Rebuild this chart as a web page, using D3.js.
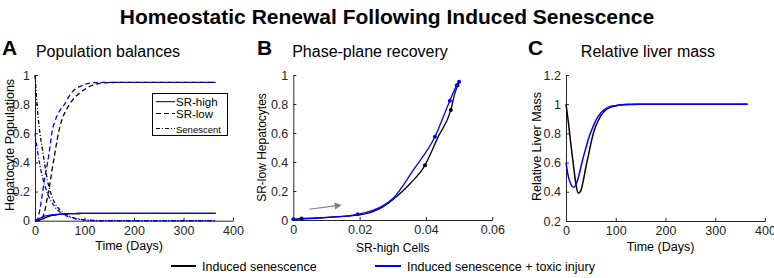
<!DOCTYPE html>
<html><head><meta charset="utf-8">
<script src="https://cdn.jsdelivr.net/npm/d3@7"></script>
<style>
body{margin:0;background:#fff;}
svg{display:block;font-family:"Liberation Sans",Arial,sans-serif;}
</style></head>
<body>
<svg id="c" width="774" height="278"></svg>
<script>
// ---------- DATA ----------
const timeDays = [0,5,10,15,20,25,30,35,40,45,50,55,60,70,80,90,100,120,150,200,365];
const senescentBlack = [1,0.76,0.6,0.49,0.38,0.28,0.21,0.16,0.12,0.095,0.075,0.06,0.048,0.03,0.018,0.011,0.006,0.002,0,0,0];
const senescentBlue  = [0.6,0.48,0.38,0.3,0.24,0.19,0.15,0.12,0.095,0.075,0.06,0.048,0.038,0.024,0.015,0.009,0.005,0.001,0,0,0];
const srLowBlack  = [0,0,0.003,0.02,0.07,0.16,0.25,0.36,0.46,0.56,0.64,0.7,0.74,0.8,0.845,0.875,0.9,0.935,0.948,0.95,0.95];
const srLowBlue   = [0,0.01,0.08,0.19,0.3,0.39,0.5,0.62,0.68,0.725,0.755,0.78,0.8,0.86,0.9,0.92,0.935,0.947,0.95,0.95,0.95];
const srHighBlack = [0,0.002,0.006,0.012,0.02,0.027,0.032,0.036,0.039,0.041,0.043,0.045,0.046,0.048,0.049,0.0495,0.05,0.05,0.05,0.05,0.05];
const srHighBlue  = [0,0.008,0.017,0.025,0.031,0.035,0.038,0.04,0.042,0.044,0.045,0.046,0.047,0.048,0.049,0.0495,0.05,0.05,0.05,0.05,0.05];
const massBlack = [1,0.87,0.72,0.58,0.45,0.39,0.41,0.48,0.57,0.65,0.73,0.8,0.85,0.92,0.96,0.98,0.99,0.998,1,1,1];
const massBlue  = [0.6,0.5,0.45,0.43,0.45,0.5,0.57,0.64,0.7,0.76,0.81,0.85,0.89,0.94,0.97,0.985,0.99,0.998,1,1,1];

const phaseBlackX = [0,0.0025,0.01,0.02,0.027,0.03,0.0352,0.0397,0.0437,0.0475,0.0487,0.0496,0.05];
const phaseBlackY = [0.005,0.01,0.018,0.035,0.09,0.14,0.25,0.377,0.575,0.759,0.873,0.93,0.95];
const phaseBlueX  = [0,0.005,0.01,0.0194,0.0271,0.0301,0.0362,0.0427,0.0472,0.0493,0.05];
const phaseBlueY  = [0.005,0.01,0.017,0.039,0.099,0.15,0.345,0.574,0.823,0.93,0.954];
const dotsBlackX = [0.0025,0.0397,0.0475,0.0495];
const dotsBlackY = [0.01,0.377,0.759,0.93];
const dotsBlueX  = [0,0.0194,0.0427,0.0472,0.0493,0.05];
const dotsBlueY  = [0.005,0.039,0.574,0.823,0.93,0.954];
const arrowX = [0.0048,0.0146];
const arrowY = [0.074,0.103];

const ticksTime = [0,100,200,300,400];
const ticksUnit = [0,0.2,0.4,0.6,0.8,1];
const ticksSRHigh = [0,0.02,0.04,0.06];
const ticksMass = [0.2,0.4,0.6,0.8,1,1.2];

const legendLabels = ["SR-high","SR-low","Senescent"];
const seriesNames = ["Induced senescence","Induced senescence + toxic injury"];
// ---------- STYLE ----------
const BLACK="#000000", BLUE="#0000ff", AXC="#262626";
const DASH="5,3", DASHDOT="4,2,1,2";

const svg = d3.select("#c");

svg.append("text").attr("x",387).attr("y",24).attr("text-anchor","middle")
  .attr("font-size",21).attr("font-weight","bold").text("Homeostatic Renewal Following Induced Senescence");

function axes(g, x, y, xt, yt, xfmt, yfmt){
  const ax = g.append("g").attr("transform",`translate(0,${y.range()[0]})`)
    .call(d3.axisBottom(x).tickValues(xt).tickSize(-3).tickSizeOuter(0).tickPadding(5).tickFormat(xfmt));
  const ay = g.append("g").attr("transform",`translate(${x.range()[0]},0)`)
    .call(d3.axisLeft(y).tickValues(yt).tickSize(-3).tickSizeOuter(0).tickPadding(5).tickFormat(yfmt));
  [ax,ay].forEach(a=>{
    a.selectAll("path,line").attr("stroke",AXC).attr("stroke-width",1);
    a.selectAll("text").attr("fill",AXC).attr("font-size",12.5).attr("font-family","Liberation Sans, Arial, sans-serif");
  });
}
const fmt = d => d3.format("~g")(d);

function panelHeader(letter, lx, title, tx){
  svg.append("text").attr("x",lx).attr("y",55).attr("font-size",21).attr("font-weight","bold").text(letter);
  svg.append("text").attr("x",tx).attr("y",57).attr("text-anchor","middle").attr("font-size",16).text(title);
}

// ---------- PANEL A ----------
panelHeader("A",2,"Population balances",108);
const xA = d3.scaleLinear([0,400],[35,233]);
const yA = d3.scaleLinear([0,1],[220.7,75]);
const gA = svg.append("g");
axes(gA,xA,yA,ticksTime,ticksUnit,fmt,fmt);
const lineA = arr => d3.line().x((d,i)=>xA(timeDays[i])).y(d=>yA(d)).curve(d3.curveMonotoneX)(arr);
const seriesA = [
  [srHighBlack,BLACK,null],[srLowBlack,BLACK,DASH],[senescentBlack,BLACK,DASHDOT],
  [srHighBlue,BLUE,null],[srLowBlue,BLUE,DASH],[senescentBlue,BLUE,DASHDOT]
];
seriesA.forEach(([arr,c,dash])=>{
  gA.append("path").attr("d",lineA(arr)).attr("fill","none").attr("stroke",c)
    .attr("stroke-width",1.3).attr("stroke-dasharray",dash);
});
gA.append("text").attr("x",xA(190)).attr("y",250).attr("text-anchor","middle").attr("font-size",12.5).text("Time (Days)");
gA.append("text").attr("transform",`translate(14,${yA(0.52)}) rotate(-90)`).attr("text-anchor","middle").attr("font-size",12.5).text("Hepatocyte Populations");
// legend
const lg = gA.append("g");
lg.append("rect").attr("x",152.5).attr("y",93.5).attr("width",75).attr("height",42).attr("fill","#fff").attr("stroke","#000").attr("stroke-width",1);
const legDash=[null,DASH,DASHDOT];
legendLabels.forEach((lab,i)=>{
  const yy = [101.7,113.5,128.5][i];
  lg.append("line").attr("x1",156).attr("x2",175).attr("y1",yy).attr("y2",yy).attr("stroke","#000").attr("stroke-width",1).attr("stroke-dasharray",legDash[i]);
  lg.append("text").attr("x",176).attr("y",yy+4).attr("font-size",i==2?9.5:11.5).text(lab);
});

// ---------- PANEL B ----------
panelHeader("B",257,"Phase-plane recovery",370);
const xB = d3.scaleLinear([0,0.06],[293.3,492.3]);
const yB = d3.scaleLinear([0,1],[220,75]);
const gB = svg.append("g");
axes(gB,xB,yB,ticksSRHigh,ticksUnit,fmt,fmt);
const lineB = (xs,ys) => d3.line().x(d=>xB(d[0])).y(d=>yB(d[1])).curve(d3.curveMonotoneX)(xs.map((v,i)=>[v,ys[i]]));
gB.append("path").attr("d",lineB(phaseBlackX,phaseBlackY)).attr("fill","none").attr("stroke",BLACK).attr("stroke-width",1.3);
dotsBlackX.forEach((v,i)=>gB.append("circle").attr("cx",xB(v)).attr("cy",yB(dotsBlackY[i])).attr("r",2).attr("fill",BLACK));
gB.append("path").attr("d",lineB(phaseBlueX,phaseBlueY)).attr("fill","none").attr("stroke",BLUE).attr("stroke-width",1.3);
dotsBlueX.forEach((v,i)=>gB.append("circle").attr("cx",xB(v)).attr("cy",yB(dotsBlueY[i])).attr("r",2).attr("fill",BLUE));
// arrow
const ax0=xB(arrowX[0]), ay0=yB(arrowY[0]), ax1=xB(arrowX[1]), ay1=yB(arrowY[1]);
const ang=Math.atan2(ay1-ay0,ax1-ax0);
const hl=7, hw=3.5;
const bx=ax1-hl*Math.cos(ang), by=ay1-hl*Math.sin(ang);
gB.append("line").attr("x1",ax0).attr("y1",ay0).attr("x2",bx).attr("y2",by).attr("stroke","#808080").attr("stroke-width",1.2);
gB.append("path").attr("d",`M${ax1},${ay1}L${bx-hw*Math.sin(ang)},${by+hw*Math.cos(ang)}L${bx+hw*Math.sin(ang)},${by-hw*Math.cos(ang)}Z`).attr("fill","#808080");
gB.append("text").attr("x",xB(0.03)).attr("y",252).attr("text-anchor","middle").attr("font-size",12).text("SR-high Cells");
gB.append("text").attr("transform",`translate(266,${yB(0.5)}) rotate(-90)`).attr("text-anchor","middle").attr("font-size",12).text("SR-low Hepatocytes");

// ---------- PANEL C ----------
panelHeader("C",528,"Relative liver mass",648);
const xC = d3.scaleLinear([0,400],[566,765]);
const yC = d3.scaleLinear([0.2,1.2],[221,75]);
const gC = svg.append("g");
axes(gC,xC,yC,ticksTime,ticksMass,fmt,fmt);
const lineC = arr => d3.line().x((d,i)=>xC(timeDays[i])).y(d=>yC(d)).curve(d3.curveMonotoneX)(arr);
gC.append("path").attr("d",lineC(massBlack)).attr("fill","none").attr("stroke",BLACK).attr("stroke-width",1.5);
gC.append("path").attr("d",lineC(massBlue)).attr("fill","none").attr("stroke",BLUE).attr("stroke-width",1.5);
gC.append("text").attr("x",xC(190)).attr("y",251).attr("text-anchor","middle").attr("font-size",12.5).text("Time (Days)");
gC.append("text").attr("transform",`translate(541,${yC(0.71)}) rotate(-90)`).attr("text-anchor","middle").attr("font-size",12.5).text("Relative Liver Mass");

// ---------- BOTTOM LEGEND ----------
const bl = svg.append("g");
[[171,196,202,BLACK],[375,401,407,BLUE]].forEach(([x1,x2,tx,c],i)=>{
  bl.append("line").attr("x1",x1).attr("x2",x2).attr("y1",266).attr("y2",266).attr("stroke",c).attr("stroke-width",2);
  bl.append("text").attr("x",tx).attr("y",270.5).attr("font-size",12.5).text(seriesNames[i]);
});
</script>
</body></html>
